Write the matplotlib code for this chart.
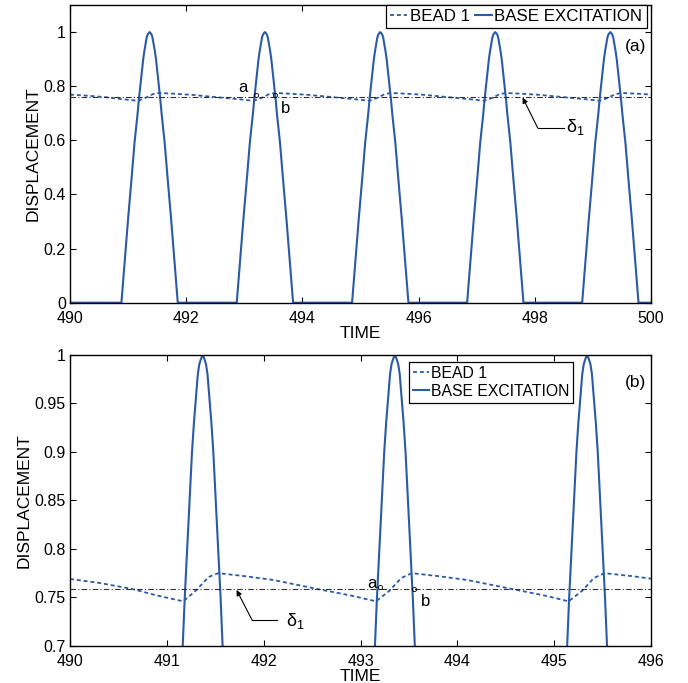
import numpy as np
import matplotlib
matplotlib.use("Agg")
import matplotlib.pyplot as plt
from matplotlib.ticker import FormatStrFormatter

plt.rcParams['font.family'] = ['Liberation Sans', 'DejaVu Sans']

# base excitation: pulse centres and one pulse profile (offset from centre, value)
pulse_centres = [491.37, 493.355, 495.34, 497.32, 499.30]
pulse_offsets = [0.485, 0.43, 0.37, 0.31, 0.26, 0.206, 0.185, 0.16, 0.135, 0.11,
                 0.09, 0.07, 0.05, 0.035, 0.02, 0.0]
pulse_values = [0.0, 0.15, 0.31, 0.46, 0.59, 0.70, 0.75, 0.80, 0.85, 0.90,
                0.93, 0.955, 0.98, 0.99, 0.995, 1.0]

# bead 1 displacement
bead_t = [490.00, 490.30, 490.63, 490.90, 491.17, 491.31, 491.43, 491.53, 491.80,
          492.10, 492.54, 492.90, 493.16, 493.30, 493.42, 493.53, 493.80, 494.10,
          494.55, 494.90, 495.15, 495.29, 495.41, 495.52, 495.80, 496.10, 496.53,
          496.88, 497.13, 497.27, 497.39, 497.50, 497.78, 498.08, 498.52, 498.87,
          499.12, 499.26, 499.38, 499.49, 499.78, 500.00]
bead_y = [0.769, 0.765, 0.759, 0.752, 0.746, 0.758, 0.771, 0.775, 0.772,
          0.768, 0.759, 0.752, 0.746, 0.757, 0.770, 0.775, 0.772, 0.768,
          0.759, 0.752, 0.746, 0.757, 0.770, 0.775, 0.772, 0.768, 0.759,
          0.752, 0.746, 0.757, 0.770, 0.775, 0.772, 0.768, 0.759, 0.752,
          0.746, 0.757, 0.770, 0.775, 0.772, 0.769]

delta_level = 0.759

# build excitation curve from the pulse profile
off = np.array(pulse_offsets)
val = np.array(pulse_values)
prof_t = np.concatenate([-off, off[::-1][1:]])
prof_y = np.concatenate([val, val[::-1][1:]])
base_t = [490.0]
base_y = [0.0]
for c in pulse_centres:
    base_t.extend(c + prof_t)
    base_y.extend(prof_y)
base_t.append(500.0)
base_y.append(0.0)

blue = '#2a5aa8'
delta_txt = r'$\mathregular{δ_1}$'

fig = plt.figure(figsize=(6.88, 6.83), dpi=100)
ax1 = fig.add_axes([70 / 688, 1 - 302.7 / 683, 581 / 688, 297.7 / 683])
ax2 = fig.add_axes([70 / 688, 1 - 646 / 683, 581 / 688, 291.3 / 683])


def style(ax):
    ax.tick_params(direction='in', top=True, right=True, length=4, width=0.8,
                   labelsize=11.5)
    ax.tick_params(axis='x', pad=6)
    ax.tick_params(axis='y', pad=3)
    for s in ax.spines.values():
        s.set_linewidth(1.0)
    ax.set_xlabel('TIME', fontsize=12.5, labelpad=0)
    ax.set_ylabel('DISPLACEMENT', fontsize=12.5, labelpad=2)
    ax.yaxis.set_major_formatter(FormatStrFormatter('%g'))


for ax in (ax1, ax2):
    ax.plot(bead_t, bead_y, linestyle=(0, (2.2, 1.6)), color=blue, lw=1.3, label='BEAD 1')
    ax.plot(base_t, base_y, '-', color=blue, lw=1.5, label='BASE EXCITATION')
    ax.axhline(delta_level, color='#333333', lw=0.8, linestyle=(0, (5, 2, 1, 2)))
    style(ax)

# top panel
ax1.set_xlim(490, 500)
ax1.set_ylim(0, 1.1)
ax1.set_xticks([490, 492, 494, 496, 498, 500])
ax1.set_yticks([0, 0.2, 0.4, 0.6, 0.8, 1.0])
leg1 = ax1.legend(loc='upper right', ncol=2, fontsize=12.2, handlelength=1.0,
                  handletextpad=0.15, columnspacing=0.3, borderpad=0.25,
                  bbox_to_anchor=(646.7 / 688, 1 - 4.7 / 683),
                  bbox_transform=fig.transFigure, borderaxespad=0,
                  fancybox=False, framealpha=1, edgecolor='black')
leg1.get_frame().set_linewidth(0.9)
ax1.text(499.91, 0.945, '(a)', ha='right', va='center', fontsize=12.5)
ax1.text(492.98, 0.795, 'a', ha='center', va='center', fontsize=12)
ax1.text(493.71, 0.717, 'b', ha='center', va='center', fontsize=12)
ax1.plot([493.20, 493.53], [0.766, 0.766], 'o', ms=3, mfc='none', mec='k', mew=0.6)
ax1.plot([498.05, 498.51], [0.646, 0.646], 'k-', lw=0.8)
ax1.annotate('', xy=(497.79, 0.758), xytext=(498.05, 0.646),
             arrowprops=dict(arrowstyle='-|>', color='k', lw=0.8,
                             shrinkA=0, shrinkB=0, mutation_scale=8))
ax1.text(498.54, 0.631, delta_txt, ha='left', va='baseline', fontsize=13)

# bottom panel
ax2.set_xlim(490, 496)
ax2.set_ylim(0.7, 1.0)
ax2.set_xticks([490, 491, 492, 493, 494, 495, 496])
ax2.set_yticks([0.7, 0.75, 0.8, 0.85, 0.9, 0.95, 1.0])
leg2 = ax2.legend(loc='upper left', fontsize=11.3, handlelength=1.0,
                  handletextpad=0.15, labelspacing=0.2, borderpad=0.25,
                  bbox_to_anchor=(409 / 688, 1 - 361.7 / 683),
                  bbox_transform=fig.transFigure, borderaxespad=0,
                  fancybox=False, framealpha=1, edgecolor='black')
leg2.get_frame().set_linewidth(0.9)
ax2.text(495.84, 0.971, '(b)', ha='center', va='center', fontsize=12.5)
ax2.text(493.12, 0.7645, 'a', ha='center', va='center', fontsize=12)
ax2.text(493.67, 0.746, 'b', ha='center', va='center', fontsize=12)
ax2.plot([493.20, 493.55], [0.761, 0.759], 'o', ms=3, mfc='none', mec='k', mew=0.6)
ax2.plot([491.88, 492.14], [0.7268, 0.7268], 'k-', lw=0.8)
ax2.annotate('', xy=(491.72, 0.7577), xytext=(491.88, 0.7268),
             arrowprops=dict(arrowstyle='-|>', color='k', lw=0.8,
                             shrinkA=0, shrinkB=0, mutation_scale=8))
ax2.text(492.23, 0.7206, delta_txt, ha='left', va='baseline', fontsize=13)

fig.savefig('out.png', dpi=100)
